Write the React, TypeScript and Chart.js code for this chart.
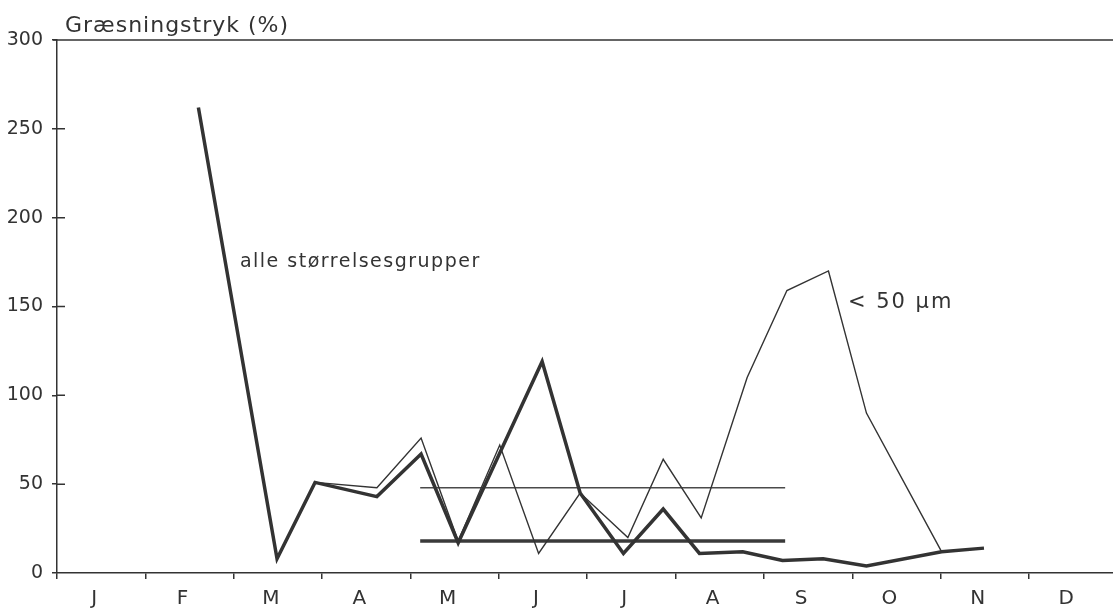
import { useEffect, useRef } from 'react';
import { Chart, registerables } from 'chart.js';

Chart.register(...registerables);

const MONTHS = ['J', 'F', 'M', 'A', 'M', 'J', 'J', 'A', 'S', 'O', 'N', 'D'];
const Y_TICKS = [0, 50, 100, 150, 200, 250, 300];
const TITLE = 'Græsningstryk (%)';

// x = position in the year in months (0 = start of January), y = grazing pressure (%)
const ALLE_X = [1.6, 2.49, 2.92, 3.62, 4.12, 4.54, 5.49, 5.92, 6.41, 6.86, 7.27, 7.76, 8.21, 8.67, 9.16, 10.01, 10.49];
const ALLE_Y = [262, 8, 51, 43, 67, 17, 119, 45, 11, 36, 11, 12, 7, 8, 4, 12, 14];
const SMALL_X = [2.92, 3.62, 4.12, 4.54, 5.01, 5.45, 5.92, 6.46, 6.86, 7.29, 7.81, 8.26, 8.73, 9.16, 10.01];
const SMALL_Y = [51, 48, 76, 18, 72, 11, 45, 20, 64, 31, 110, 159, 170, 90, 12];
const MEAN_RANGE = [4.11, 8.24];
const MEAN_SMALL = 48;
const MEAN_ALLE = 18;

const LABEL_ALLE = { text: 'alle størrelsesgrupper', x: 2.07, y: 175 };
const LABEL_SMALL = { text: '< 50 µm', x: 8.95, y: 152 };

const INK = '#333333';
const FONT = '"DejaVu Sans", sans-serif';

const pts = (xs: number[], ys: number[]) => xs.map((x, i) => ({ x, y: ys[i] }));

const decor = {
  id: 'decor',
  afterDraw(chart: any) {
    const { ctx, chartArea: a, scales } = chart;
    const x = scales.x;
    const y = scales.y;
    ctx.save();
    ctx.strokeStyle = INK;
    ctx.lineWidth = 1.5;
    ctx.beginPath();
    ctx.moveTo(a.left - 4, a.top);
    ctx.lineTo(a.right, a.top);
    Y_TICKS.slice(1, -1).forEach((v) => {
      const py = y.getPixelForValue(v);
      ctx.moveTo(a.left, py);
      ctx.lineTo(a.left + 8, py);
    });
    ctx.stroke();

    ctx.fillStyle = INK;
    ctx.textAlign = 'left';
    ctx.textBaseline = 'alphabetic';
    ctx.font = `22px ${FONT}`;
    ctx.letterSpacing = '1px';
    ctx.fillText(TITLE, a.left + 8, a.top - 8);

    ctx.textBaseline = 'middle';
    ctx.font = `19px ${FONT}`;
    ctx.letterSpacing = '1.5px';
    ctx.fillText(LABEL_ALLE.text, x.getPixelForValue(LABEL_ALLE.x), y.getPixelForValue(LABEL_ALLE.y));
    ctx.font = `21px ${FONT}`;
    ctx.letterSpacing = '2px';
    ctx.fillText(LABEL_SMALL.text, x.getPixelForValue(LABEL_SMALL.x), y.getPixelForValue(LABEL_SMALL.y));
    ctx.letterSpacing = '0px';
    ctx.restore();
  },
};

export default function App() {
  const ref = useRef<HTMLCanvasElement>(null);

  useEffect(() => {
    document.body.style.margin = '0';
    const canvas = ref.current;
    if (!canvas) return;
    const chart = new Chart(canvas, {
      type: 'line',
      data: {
        datasets: [
          {
            label: 'alle størrelsesgrupper',
            data: pts(ALLE_X, ALLE_Y),
            borderColor: INK,
            borderWidth: 3.5,
            pointRadius: 0,
            tension: 0,
          },
          {
            label: '< 50 µm',
            data: pts(SMALL_X, SMALL_Y),
            borderColor: INK,
            borderWidth: 1.4,
            pointRadius: 0,
            tension: 0,
          },
          {
            label: 'middel < 50 µm',
            data: pts(MEAN_RANGE, [MEAN_SMALL, MEAN_SMALL]),
            borderColor: '#4a4a4a',
            borderWidth: 1.6,
            pointRadius: 0,
          },
          {
            label: 'middel alle',
            data: pts(MEAN_RANGE, [MEAN_ALLE, MEAN_ALLE]),
            borderColor: '#3a3a3a',
            borderWidth: 3.5,
            pointRadius: 0,
          },
        ],
      },
      options: {
        responsive: false,
        animation: false,
        devicePixelRatio: 1,
        layout: { padding: { top: 40, left: 0, right: 0, bottom: 0 } },
        plugins: {
          legend: { display: false },
          tooltip: { enabled: false },
          title: { display: false },
        },
        scales: {
          x: {
            type: 'linear',
            min: 0,
            max: 11.95,
            afterBuildTicks: (s: any) => {
              const t: any[] = [];
              for (let i = 0; i < 12; i++) {
                t.push({ value: i });
                t.push({ value: i + 0.42 });
              }
              s.ticks = t;
            },
            afterFit: (s: any) => {
              s.height = 42;
            },
            ticks: {
              autoSkip: false,
              maxRotation: 0,
              padding: 8,
              color: INK,
              font: { size: 20, family: FONT },
              callback: (v: any) => (Number.isInteger(v) ? '' : MONTHS[Math.floor(v)]),
            },
            grid: {
              drawOnChartArea: false,
              drawTicks: true,
              tickLength: 6,
              lineWidth: 1.5,
              tickColor: (c: any) => (c.tick && Number.isInteger(c.tick.value) ? INK : 'rgba(0,0,0,0)'),
            },
            border: { display: true, color: INK, width: 1.5 },
          },
          y: {
            min: 0,
            max: 300,
            afterBuildTicks: (s: any) => {
              s.ticks = Y_TICKS.map((v) => ({ value: v }));
            },
            afterFit: (s: any) => {
              s.width = 57;
            },
            ticks: {
              padding: 9,
              color: INK,
              font: { size: 19, family: FONT },
            },
            grid: {
              drawOnChartArea: false,
              drawTicks: true,
              tickLength: 5,
              lineWidth: 1.5,
              color: INK,
            },
            border: { display: true, color: INK, width: 1.5 },
          },
        },
      },
      plugins: [decor],
    });
    return () => chart.destroy();
  }, []);

  return <canvas ref={ref} width={1113} height={615} style={{ display: 'block' }} />;
}
